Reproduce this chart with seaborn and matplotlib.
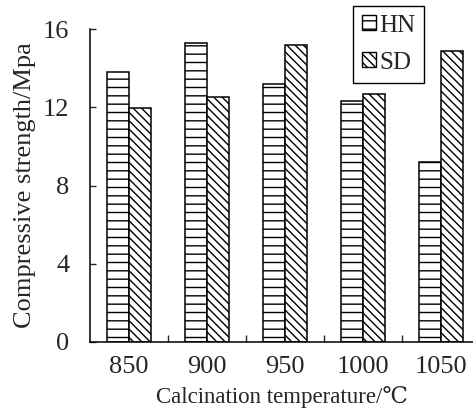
import matplotlib
matplotlib.use("Agg")
import matplotlib.pyplot as plt
import seaborn as sns
import pandas as pd
from matplotlib.patches import Patch

temps = ["850", "900", "950", "1000", "1050"]
hn = [13.8, 15.3, 13.2, 12.3, 9.2]
sd = [11.95, 12.5, 15.2, 12.7, 14.9]
series = ["HN", "SD"]

df = pd.DataFrame({
    "temp": temps * 2,
    "val": hn + sd,
    "series": ["HN"] * len(temps) + ["SD"] * len(temps),
})

sns.set_style("white")
plt.rcParams['font.family'] = ['Liberation Serif', 'DejaVu Serif']
plt.rcParams['hatch.linewidth'] = 1.0
plt.rcParams['hatch.color'] = 'black'

DPI = 100
fig = plt.figure(figsize=(473 / DPI, 417 / DPI), dpi=DPI)
ax = fig.add_axes([90 / 473, 75 / 417, 1 - 90 / 473, (342 - 29) / 417])

sns.barplot(data=df, x="temp", y="val", hue="series", order=temps,
            hue_order=series, width=0.56, ax=ax, legend=False,
            palette=["white", "white"], edgecolor="black", linewidth=1.1,
            saturation=1)

hatches = ["--", "\\\\\\\\"]
for cont, h in zip(ax.containers, hatches):
    for p in cont:
        p.set_hatch(h)
        p.set_facecolor("white")
        p.set_edgecolor("black")

ax.set_ylim(0, 16)
ax.set_xlim(-0.5, 4.41)
ax.set_yticks([0, 4, 8, 12, 16])
ax.set_xticks(range(len(temps)))
ax.set_xticklabels(temps)
ax.tick_params(axis='x', length=0, pad=10, labelsize=19)
ax.tick_params(axis='y', direction='in', length=4, width=1.0, pad=15, labelsize=19, left=True)
ax.set_xticks([0.5, 1.5, 2.5, 3.5], minor=True)
ax.tick_params(axis='x', which='minor', direction='in', length=5, width=1.0, bottom=True)

for s in ["top", "right"]:
    ax.spines[s].set_visible(False)
for s in ["left", "bottom"]:
    ax.spines[s].set_color("black")
    ax.spines[s].set_linewidth(1.1)

ax.set_xlabel("Calcination temperature/℃", fontsize=16.5, labelpad=6)
ax.set_ylabel("Compressive strength/Mpa", fontsize=19, labelpad=5)

handles = [Patch(facecolor="white", edgecolor="black", hatch=h, label=l)
           for h, l in zip(hatches, series)]
leg = ax.legend(handles=handles, loc="upper left",
                bbox_to_anchor=(353 / 473, 1 - 6 / 417),
                bbox_transform=fig.transFigure, fontsize=18,
                handlelength=0.55, handleheight=0.55, handletextpad=0.15,
                labelspacing=0.6, borderpad=0.35, borderaxespad=0,
                fancybox=False, frameon=True, framealpha=1)
leg.get_frame().set_edgecolor("black")
leg.get_frame().set_linewidth(1.0)

fig.savefig("out.png", dpi=DPI)
